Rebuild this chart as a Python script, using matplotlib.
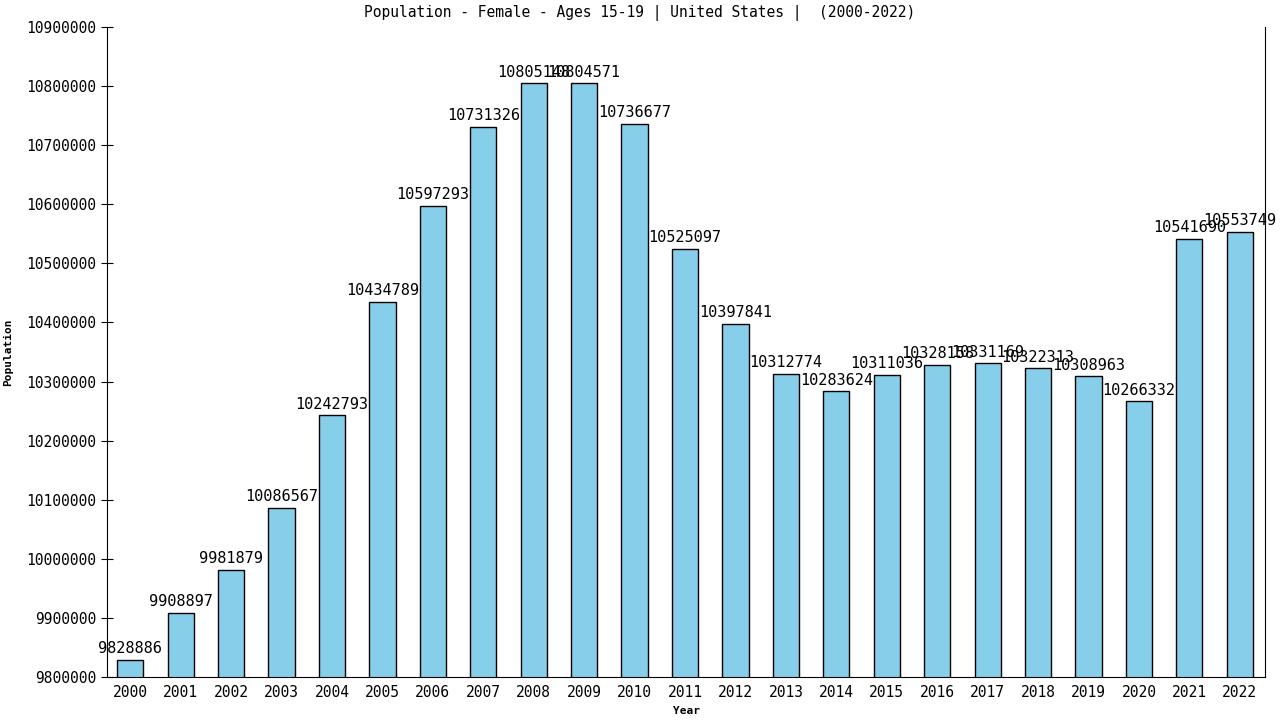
import matplotlib
matplotlib.use("Agg")
import matplotlib.pyplot as plt

years = [2000, 2001, 2002, 2003, 2004, 2005, 2006, 2007, 2008, 2009, 2010, 2011,
         2012, 2013, 2014, 2015, 2016, 2017, 2018, 2019, 2020, 2021, 2022]
population = [9828886, 9908897, 9981879, 10086567, 10242793, 10434789, 10597293,
              10731326, 10805148, 10804571, 10736677, 10525097, 10397841, 10312774,
              10283624, 10311036, 10328158, 10331169, 10322313, 10308963, 10266332,
              10541690, 10553749]
yticks = list(range(9800000, 10900001, 100000))

plt.rcParams['font.family'] = ['DejaVu Sans Mono']

fig = plt.figure(figsize=(12.8, 7.2), dpi=100)
ax = fig.add_axes([0.0836, 0.0597, 0.9047, 0.9028])

x = list(range(len(years)))
ax.bar(x, population, width=0.52, color='skyblue', edgecolor='black', linewidth=1)

# value labels on top of each bar
for xi, v in zip(x, population):
    ax.text(xi, v + 6000, str(v), ha='center', va='bottom', fontsize=11)

ax.set_xlim(-0.46, 22.5)
ax.set_ylim(9800000, 10900000)
ax.set_xticks(x)
ax.set_xticklabels([str(y) for y in years], fontsize=10.5)
ax.set_yticks(yticks)
ax.set_yticklabels([str(t) for t in yticks], fontsize=10.5)
ax.tick_params(axis='y', direction='inout', length=8)
ax.tick_params(axis='x', length=0, pad=6)
ax.spines['top'].set_visible(False)

fig.text(0.5, 0.982, 'Population - Female - Ages 15-19 | United States |  (2000-2022)',
         ha='center', va='center', fontsize=10.5)
ax.set_xlabel('Year', fontsize=8, fontweight='bold', labelpad=4)
ax.set_ylabel('Population', fontsize=8, fontweight='bold', labelpad=10)

fig.savefig('out.png', dpi=100)
